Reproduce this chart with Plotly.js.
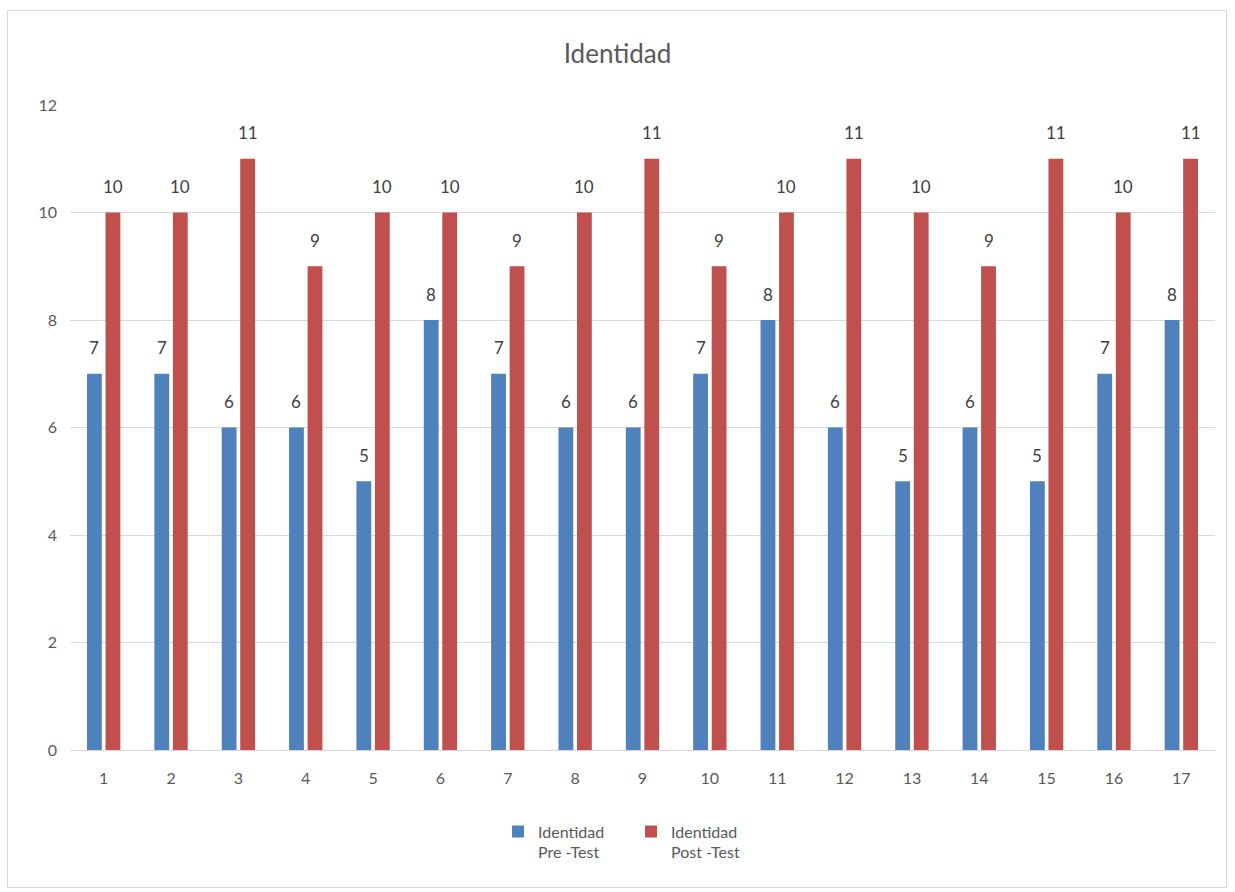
<!DOCTYPE html>
<html>
<head>
<meta charset="utf-8">
<script src="https://cdn.plot.ly/plotly-3.0.1.min.js"></script>
<style>
html,body{margin:0;padding:0;background:#fff;}
#frame{position:absolute;left:7px;top:10px;width:1220px;height:878px;border:1px solid #d9d9d9;box-sizing:border-box;}
#chart{position:absolute;left:0;top:0;width:1235px;height:892px;}
</style>
</head>
<body>
<div id="frame"></div>
<div id="chart"></div>
<script>
var categories = ["1","2","3","4","5","6","7","8","9","10","11","12","13","14","15","16","17"];
var preTest = [7,7,6,6,5,8,7,6,6,7,8,6,5,6,5,7,8];
var postTest = [10,10,11,9,10,10,9,10,11,9,10,11,10,9,11,10,11];
var seriesNames = ["Identidad<br>Pre -Test", "Identidad<br>Post -Test"];
var yTicks = [0,2,4,6,8,10,12];

var fontFam = "Lato, 'Open Sans', 'Liberation Sans', sans-serif";
var bargap = 0.45;
var slot = (1 - bargap) / 2;

var traces = [
  {type:'bar', x:categories, y:preTest, name:seriesNames[0], marker:{color:'#4f81bd'}, hoverinfo:'y'},
  {type:'bar', x:categories, y:postTest, name:seriesNames[1], marker:{color:'#c0504d'}, hoverinfo:'y'}
];

var annotations = [];
[preTest, postTest].forEach(function(series, s){
  var off = (s === 0 ? -1 : 1) * slot / 2;
  series.forEach(function(v, i){
    annotations.push({x: i + off, y: v, xref:'x', yref:'y', text: String(v), showarrow:false,
      yanchor:'middle', xanchor:'center', yshift:26,
      font:{size:17, color:'#404040', family:fontFam}});
  });
});

var layout = {
  width:1235, height:892,
  paper_bgcolor:'rgba(0,0,0,0)', plot_bgcolor:'rgba(0,0,0,0)',
  margin:{l:70, r:20, t:105, b:142},
  font:{family:fontFam, color:'#595959', size:16},
  title:{text:'Identidad', font:{size:26, color:'#595959', family:fontFam}, x:0.5, xanchor:'center', y:0.94, yanchor:'middle'},
  barmode:'group', bargap:bargap, bargroupgap:0.2,
  xaxis:{type:'category', showgrid:false, showline:true, linecolor:'#d9d9d9', linewidth:1,
         ticks:'', tickfont:{size:16,color:'#595959'}, zeroline:false, ticklabelstandoff:14},
  yaxis:{range:[0,12], tickvals:yTicks, showgrid:true, gridcolor:'#d9d9d9', gridwidth:1,
         zeroline:false, showline:false, ticks:'', tickfont:{size:16,color:'#595959'}, ticklabelstandoff:12},
  legend:{orientation:'h', x:0.49, xanchor:'center', y:-0.1, yanchor:'top', valign:'top',
          font:{size:16,color:'#595959'}, itemwidth:30, entrywidth:88, traceorder:'normal'},
  annotations: annotations,
  showlegend:true
};

Plotly.newPlot('chart', traces, layout, {displayModeBar:false, staticPlot:true});
</script>
</body>
</html>
